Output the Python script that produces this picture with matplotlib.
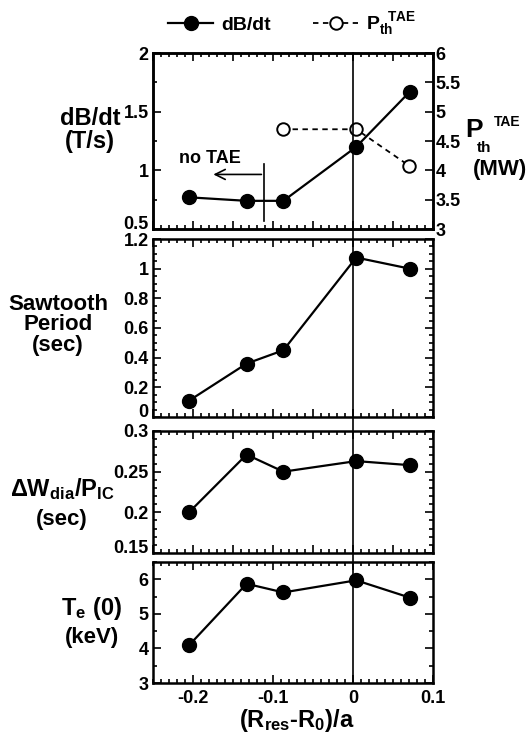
import matplotlib
matplotlib.use("Agg")
import matplotlib.pyplot as plt
from matplotlib.ticker import MultipleLocator, FuncFormatter
from matplotlib.lines import Line2D
import matplotlib.transforms as mtransforms

plt.rcParams['font.family'] = ['Liberation Sans', 'DejaVu Sans']
plt.rcParams['font.weight'] = 'bold'
plt.rcParams['axes.unicode_minus'] = False
plt.rcParams['mathtext.fontset'] = 'custom'
plt.rcParams['mathtext.rm'] = 'Liberation Sans:bold'
plt.rcParams['mathtext.bf'] = 'Liberation Sans:bold'
plt.rcParams['mathtext.it'] = 'Liberation Sans:bold'

# resonance position (R_res - R_0)/a for each discharge
r_pos = [-0.205, -0.133, -0.087, 0.004, 0.071]
dbdt = [0.77, 0.74, 0.74, 1.20, 1.67]
sawtooth = [0.11, 0.36, 0.45, 1.075, 1.00]
dw_pic = [0.200, 0.271, 0.250, 0.263, 0.258]
te0 = [4.09, 5.87, 5.62, 5.97, 5.47]

# TAE threshold power (only where TAE was observed)
r_tae = [-0.088, 0.004, 0.070]
pth_tae = [4.70, 4.70, 4.08]

W, H = 529, 734
fig = plt.figure(figsize=(W / 100, H / 100), dpi=100)

def box(top, bottom):
    left, right = 153, 433
    return [left / W, 1 - bottom / H, (right - left) / W, (bottom - top) / H]

ax1 = fig.add_axes(box(53, 229))
ax2 = fig.add_axes(box(239, 417))
ax3 = fig.add_axes(box(431, 553))
ax4 = fig.add_axes(box(562, 683))
axes = [ax1, ax2, ax3, ax4]

mk = dict(marker='o', markersize=10, color='black', lw=1.6,
          markerfacecolor='black', markeredgecolor='black')

ff = FuncFormatter(lambda v, pos=None: '%g' % round(v, 6))

for ax in axes:
    ax.set_xlim(-0.25, 0.1)
    ax.xaxis.set_major_locator(MultipleLocator(0.05))
    ax.xaxis.set_minor_locator(MultipleLocator(0.01))
    ax.tick_params(which='both', direction='in', top=True, bottom=True,
                   right=True, left=True, width=1.2, labelsize=13, pad=3)
    ax.tick_params(which='major', length=6)
    ax.tick_params(which='minor', length=3)
    for s in ax.spines.values():
        s.set_linewidth(1.8)
    if ax is not ax4:
        ax.tick_params(labelbottom=False)

# panel 1: dB/dt with TAE threshold on right axis
h1, = ax1.plot(r_pos, dbdt, **mk)
ax1.set_ylim(0.5, 2)
ax1.yaxis.set_major_locator(MultipleLocator(0.5))
ax1.yaxis.set_minor_locator(MultipleLocator(0.25))
ax1.yaxis.set_major_formatter(ff)
ax1.tick_params(axis='y', right=False)
ax1r = ax1.twinx()
h2, = ax1r.plot(r_tae, pth_tae, linestyle=(0, (3, 2.5)), color='black', lw=1.3,
                marker='o', markersize=9, markerfacecolor='white',
                markeredgecolor='black', markeredgewidth=1.4)
ax1r.set_ylim(3, 6)
ax1r.yaxis.set_major_locator(MultipleLocator(0.5))
ax1r.yaxis.set_major_formatter(ff)
ax1r.tick_params(axis='y', direction='in', length=6, width=1.2, labelsize=13, pad=2)
for s in ax1r.spines.values():
    s.set_linewidth(1.8)

ax1.annotate('', xy=(-0.178, 0.965), xytext=(-0.111, 0.965),
             arrowprops=dict(arrowstyle='->', color='black', lw=1.2,
                             mutation_scale=18))
ax1.plot([-0.1115, -0.1115], [0.57, 1.056], color='black', lw=1.2)
ax1.text(-0.179, 1.10, 'no TAE', ha='center', va='center', fontsize=13,
         fontweight='bold')

# panel 2: sawtooth period
ax2.plot(r_pos, sawtooth, **mk)
ax2.set_ylim(0, 1.2)
ax2.yaxis.set_major_locator(MultipleLocator(0.2))
ax2.yaxis.set_minor_locator(MultipleLocator(0.05))
ax2.yaxis.set_major_formatter(ff)

# panel 3: confinement time
ax3.plot(r_pos, dw_pic, **mk)
ax3.set_ylim(0.15, 0.3)
ax3.yaxis.set_major_locator(MultipleLocator(0.05))
ax3.yaxis.set_minor_locator(MultipleLocator(0.01))
ax3.yaxis.set_major_formatter(ff)

# panel 4: central electron temperature
ax4.plot(r_pos, te0, **mk)
ax4.set_ylim(3, 6.5)
ax4.yaxis.set_major_locator(MultipleLocator(1))
ax4.yaxis.set_minor_locator(MultipleLocator(0.5))
ax4.yaxis.set_major_formatter(ff)
ax4.set_xticks([-0.2, -0.1, 0, 0.1], minor=False)
ax4.xaxis.set_major_formatter(ff)
ax4.xaxis.set_minor_locator(MultipleLocator(0.01))
ax4.tick_params(axis='x', which='major', pad=5)

# vertical line at zero running through all panels
trans = mtransforms.blended_transform_factory(ax4.transData, fig.transFigure)
fig.add_artist(Line2D([0, 0], [1 - 683 / H, 1 - 53 / H], transform=trans,
                      color='black', lw=1.2))

# axis labels
fig.text(90 / W, 1 - 130 / H, 'dB/dt\n(T/s)', ha='center', va='center',
         fontsize=17, fontweight='bold', linespacing=0.95)
fig.text(474 / W, 1 - 130 / H, 'P', ha='center', va='center', fontsize=19,
         fontweight='bold')
fig.text(484 / W, 1 - 148 / H, 'th', ha='center', va='center', fontsize=11,
         fontweight='bold')
fig.text(507 / W, 1 - 122 / H, 'TAE', ha='center', va='center', fontsize=10,
         fontweight='bold')
fig.text(500 / W, 1 - 170 / H, '(MW)', ha='center', va='center',
         fontsize=16, fontweight='bold')
fig.text(58 / W, 1 - 325 / H, 'Sawtooth\nPeriod\n(sec)', ha='center',
         va='center', fontsize=16, fontweight='bold', linespacing=0.95)
fig.text(62 / W, 1 - 489 / H, r'$\Delta\mathrm{W}_{\mathrm{dia}}/\mathrm{P}_{\mathrm{IC}}$',
         ha='center', va='center', fontsize=17)
fig.text(62 / W, 1 - 519 / H, '(sec)', ha='center', va='center',
         fontsize=16, fontweight='bold')
fig.text(92 / W, 1 - 608 / H, r'$\mathrm{T}_{\mathrm{e}}\ (0)$', ha='center',
         va='center', fontsize=17)
fig.text(92 / W, 1 - 638 / H, '(keV)', ha='center', va='center',
         fontsize=16, fontweight='bold')
fig.text(297 / W, 1 - 721 / H, r'$(\mathrm{R}_{\mathrm{res}}$-$\mathrm{R}_{0})/\mathrm{a}$',
         ha='center', va='center', fontsize=17)

# legend across the top
fig.legend([h1, h2], ['dB/dt', r'$\mathrm{P}_{\mathrm{th}}^{\ \ \mathrm{TAE}}$'],
           loc='center', bbox_to_anchor=(292 / W, 1 - 24 / H), ncol=2,
           frameon=False, fontsize=14, handlelength=2.3, columnspacing=2.2,
           handletextpad=0.4)

# lift the lowest left tick label of the stacked panels so it clears the panel below
fig.canvas.draw()
for ax in [ax1, ax2, ax3]:
    lo = ax.get_ylim()[0]
    for t in ax.yaxis.get_major_ticks():
        if abs(t.get_loc() - lo) < 1e-9:
            t.label1.set_verticalalignment('baseline')

fig.savefig('out.png', dpi=100)
